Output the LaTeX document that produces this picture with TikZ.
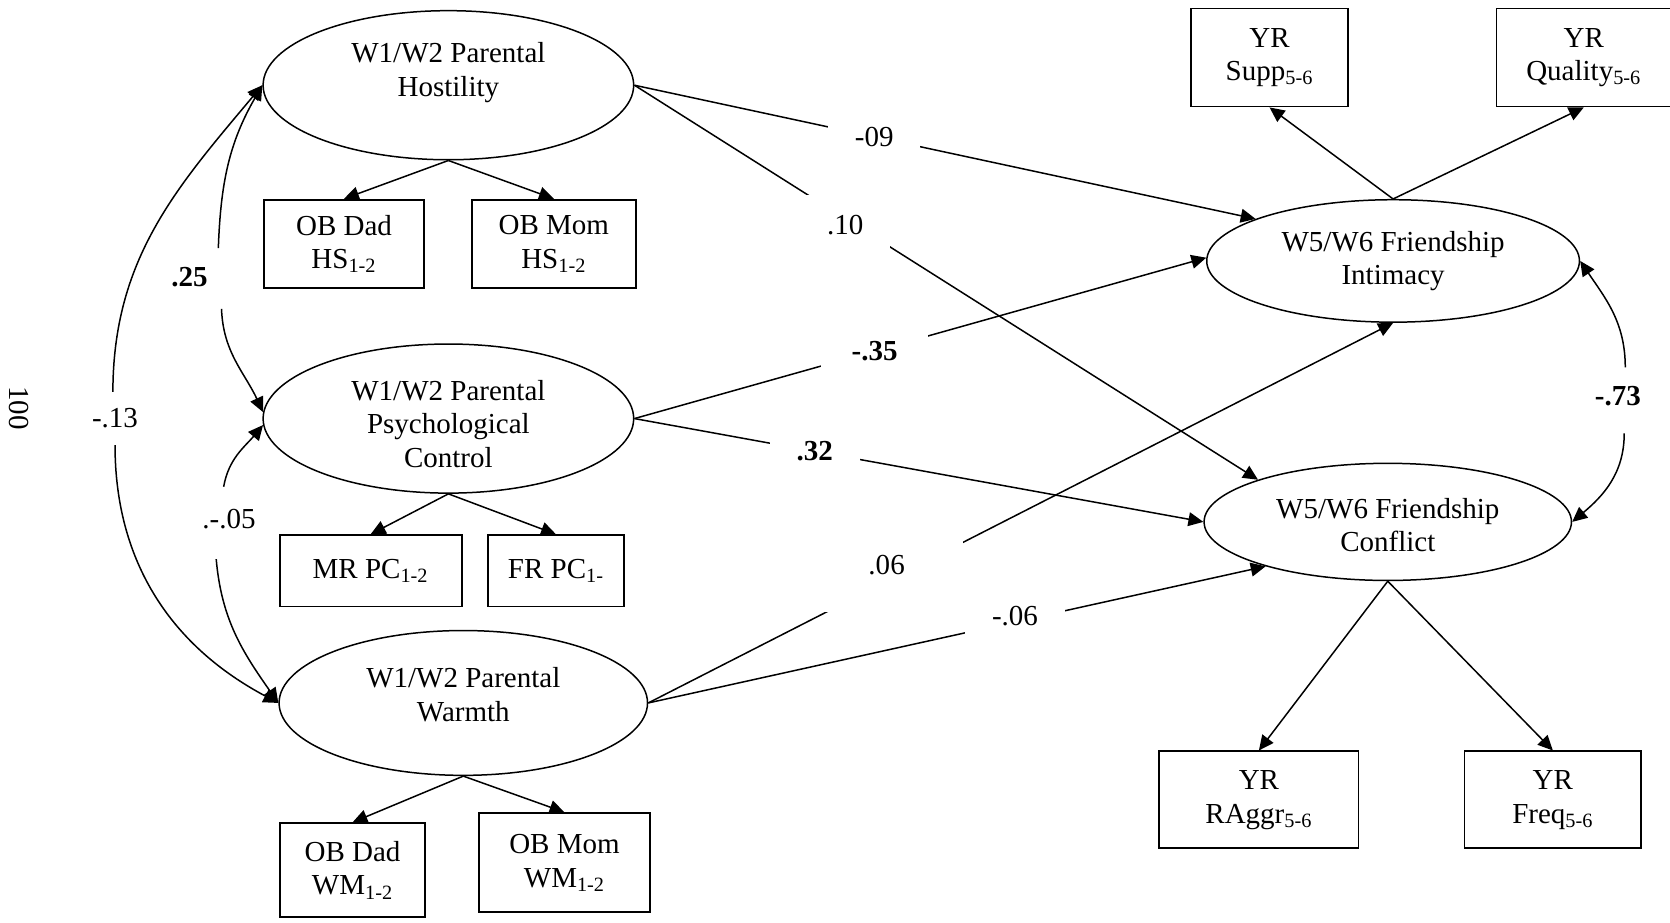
\documentclass[tikz,border=0pt]{standalone}
\usepackage{fontspec}
\setmainfont{Liberation Serif}
\usetikzlibrary{arrows.meta,shapes.geometric}

\begin{document}
\begin{tikzpicture}[x=0.02cm,y=-0.02cm,
  every node/.style={font=\fontsize{15.5}{18}\selectfont},
  latent/.style={ellipse,draw,line width=0.8pt,inner sep=0pt,align=center},
  indic/.style={rectangle,draw,line width=1pt,inner sep=0pt,align=center},
  arr/.style={line width=0.8pt,-{Triangle[length=0.28cm,width=0.26cm]}},
  coef/.style={fill=white,inner xsep=0.5cm,inner ysep=0.14cm}]
\useasboundingbox (0,0) rectangle (1568,866);

% parenting factors
\node[latent,minimum width=6.96cm,minimum height=2.8cm,
  label={[name=hostt,align=center,yshift=0.24cm]center:W1/W2 Parental\\Hostility}] (host) at (421,80) {};
\node[latent,minimum width=6.96cm,minimum height=2.8cm,
  label={[name=psyct,align=center,yshift=-0.1cm]center:W1/W2 Parental\\Psychological\\Control}] (psyc) at (421,393) {};
\node[latent,minimum width=6.92cm,minimum height=2.72cm,
  label={[name=warmt,align=center,yshift=0.16cm]center:W1/W2 Parental\\Warmth}] (warm) at (435,660) {};

% friendship factors
\node[latent,minimum width=7.0cm,minimum height=2.3cm] (inti) at (1308,245) {W5/W6 Friendship\\Intimacy};
\node[latent,minimum width=6.9cm,minimum height=2.2cm,
  label={[name=conft,align=center,yshift=-0.06cm]center:W5/W6 Friendship\\Conflict}] (conf) at (1303,490) {};

% indicators
\node[indic,minimum width=3.02cm,minimum height=1.66cm] (hsdad) at (323,229) {OB Dad\\HS\textsubscript{1-2}};
\node[indic,minimum width=3.08cm,minimum height=1.66cm] (hsmom) at (520,229) {OB Mom\\HS\textsubscript{1-2}};
\node[indic,minimum width=3.42cm,minimum height=1.34cm] (pcmr) at (348,536) {MR PC\textsubscript{1-2}};
\node[indic,minimum width=2.56cm,minimum height=1.34cm] (pcfr) at (522,536) {FR PC\textsubscript{1-}};
\node[indic,minimum width=2.72cm,minimum height=1.76cm] (wmdad) at (331,817) {OB Dad\\WM\textsubscript{1-2}};
\node[indic,minimum width=3.22cm,minimum height=1.86cm] (wmmom) at (530,810) {OB Mom\\WM\textsubscript{1-2}};
\node[indic,minimum width=2.94cm,minimum height=1.84cm] (supp) at (1192,54) {YR\\Supp\textsubscript{5-6}};
\node[indic,minimum width=3.28cm,minimum height=1.84cm] (qual) at (1487,54) {YR\\Quality\textsubscript{5-6}};
\node[indic,minimum width=3.74cm,minimum height=1.82cm] (aggr) at (1182,751) {YR\\RAggr\textsubscript{5-6}};
\node[indic,minimum width=3.32cm,minimum height=1.82cm] (freq) at (1458,751) {YR\\Freq\textsubscript{5-6}};

\node[rotate=-90] (pg) at (18,383) {100};

% loadings
\draw[arr] (host.south) -- (hsdad.north);
\draw[arr] (host.south) -- (hsmom.north);
\draw[arr] (psyc.south) -- (pcmr.north);
\draw[arr] (psyc.south) -- (pcfr.north);
\draw[arr] (warm.south) -- (wmdad.north);
\draw[arr] (warm.south) -- (wmmom.north);
\draw[arr] (inti.north) -- (supp.south);
\draw[arr] (inti.north) -- (qual.south);
\draw[arr] (conf.south) -- (aggr.north);
\draw[arr] (conf.south) -- (freq.north);

% paths
\draw[arr] (host.east) -- node[coef,pos=.386] {-09} (inti.163);
\draw[arr] (host.east) -- node[coef,pos=.338,yshift=-0.12cm,inner ysep=0.38cm] {.10} (conf.162);
\draw[arr] (psyc.east) -- node[coef,pos=.42,inner xsep=0.58cm] {\textbf{-.35}} (inti.179);
\draw[arr] (psyc.east) -- node[coef,pos=.317] {\textbf{.32}} (conf.west);
\draw[arr] (warm.east) -- node[coef,pos=.32,yshift=0.3cm,inner xsep=1.1cm,inner ysep=0.7cm] {.06} (inti.south);
\draw[arr] (warm.east) -- node[coef,pos=.594,yshift=0.1cm,inner ysep=0.24cm] {-.06} (conf.200);

% correlations
\coordinate (a25) at (205,233);
\coordinate (b25) at (208,290);
\draw[arr] (a25) to[out=88,in=-120] (host.west);
\draw[arr] (b25) to[out=-88,in=115] (psyc.178);
\node (l25) at (178,260) {\textbf{.25}};

\coordinate (a13) at (106,368);
\coordinate (b13) at (108,418);
\draw[arr] (a13) to[out=90,in=-130] (host.west);
\draw[arr] (b13) to[out=-90,in=152] (warm.west);
\node (l13) at (108,393) {-.13};

\coordinate (a05) at (210,457);
\coordinate (b05) at (203,525);
\draw[arr] (a05) to[out=80,in=-130] (psyc.182);
\draw[arr] (b05) to[out=-85,in=125] (warm.west);
\node (l05) at (215,487) {.-.05};

\coordinate (a73) at (1526,345);
\coordinate (b73) at (1525,407);
\draw[arr] (a73) to[out=90,in=-56] (inti.east);
\draw[arr] (b73) to[out=-90,in=40] (conf.east);
\node (l73) at (1519,372) {\textbf{-.73}};

\end{tikzpicture}
\end{document}
